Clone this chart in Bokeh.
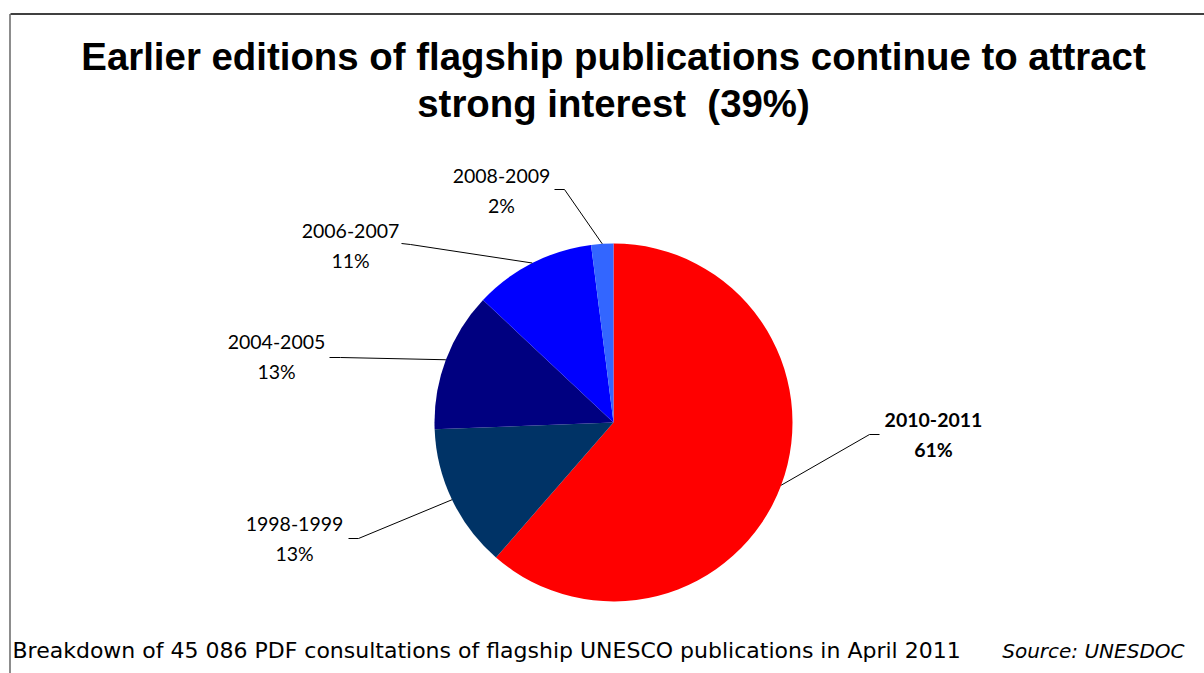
import math
from bokeh.plotting import figure
from bokeh.models import Range1d, ColumnDataSource
from bokeh.core.properties import value
from bokeh.embed import file_html
from bokeh.resources import INLINE

# ---------------- data ----------------
periods = ["2010-2011", "1998-1999", "2004-2005", "2006-2007", "2008-2009"]
shares = [61.4, 13.0, 12.6, 11.0, 2.0]
colors = ["#FF0000", "#003366", "#000080", "#0000FF", "#3366FF"]
title_lines = ["Earlier editions of flagship publications continue to attract",
               "strong interest \u00a0(39%)"]
footnote = "Breakdown of 45 086 PDF consultations of flagship UNESCO publications in April 2011"
source_note = "Source: UNESDOC"

# ---------------- layout ----------------
W, H = 1204, 673


def X(sx):
    return sx


def Y(sy):
    return H - sy


PIE_CX, PIE_CY, PIE_R = 613, 422, 179
LABEL_FONT = "Lato"
LABEL_SIZE = "19.5px"
LABEL_SHIFT = 7.5
LINE_GAP = 29
FOOT_FONT = "DejaVu Sans"
FOOT_SIZE = "22px"
SOURCE_SIZE = "20px"
FOOT_SHIFT = 7
TITLE_SHIFT = 14

# label centre x, first-line baseline y, elbow points (screen px)
label_layout = {
    "2010-2011": dict(cx=933, by=427, elbow=[(879, 434), (869, 434)], bold=True),
    "1998-1999": dict(cx=294, by=531, elbow=[(348, 538), (358, 538)], bold=False),
    "2004-2005": dict(cx=276, by=349, elbow=[(329, 357), (340, 357)], bold=False),
    "2006-2007": dict(cx=350, by=238, elbow=[(401, 243), (410, 244)], bold=False),
    "2008-2009": dict(cx=501, by=183, elbow=[(554, 189), (564, 189)], bold=False),
}

p = figure(width=W, height=H, x_range=Range1d(0, W), y_range=Range1d(0, H),
           output_backend="svg", toolbar_location=None, min_border=0,
           x_axis_type=None, y_axis_type=None)
p.outline_line_color = None
p.background_fill_color = "white"
p.border_fill_color = "white"

# frame lines
p.line(x=[X(1210), X(10)], y=[Y(13.5), Y(13.5)], line_color="#404040", line_width=2)
p.line(x=[X(9.5), X(9.5)], y=[Y(13.5), Y(680)], line_color="#404040", line_width=1.2)

# pie wedges
total = sum(shares)
cum = 0.0
starts, ends, mids = [], [], []
for s in shares:
    a0 = math.pi / 2 - 2 * math.pi * cum / total
    a1 = math.pi / 2 - 2 * math.pi * (cum + s) / total
    starts.append(a1)
    ends.append(a0)
    mids.append((a0 + a1) / 2)
    cum += s

src = ColumnDataSource(dict(start=starts, end=ends, color=colors,
                            x=[X(PIE_CX)] * len(shares), y=[Y(PIE_CY)] * len(shares)))
p.wedge(x="x", y="y", radius=PIE_R, start_angle="start", end_angle="end",
        direction="anticlock", fill_color="color", line_color=None, source=src)

# leader lines and labels
for per, s, m in zip(periods, shares, mids):
    lay = label_layout[per]
    ax = X(PIE_CX) + PIE_R * math.cos(m)
    ay = Y(PIE_CY) + PIE_R * math.sin(m)
    xs = [X(e[0]) for e in lay["elbow"]] + [ax]
    ys = [Y(e[1]) for e in lay["elbow"]] + [ay]
    p.line(x=xs, y=ys, line_color="black", line_width=1)
    style = "bold" if lay["bold"] else "normal"
    b = lay["by"] - LABEL_SHIFT
    p.text(x=[X(lay["cx"]), X(lay["cx"])], y=[Y(b), Y(b + LINE_GAP)],
           text=[per, f"{round(s)}%"], text_font=value(LABEL_FONT), text_font_size=LABEL_SIZE,
           text_font_style=style, text_align="center", text_baseline="alphabetic",
           text_color="black")

# title
p.text(x=[X(613), X(613)], y=[Y(70 - TITLE_SHIFT), Y(117 - TITLE_SHIFT)], text=title_lines,
       text_font=value("Liberation Sans"), text_font_size="38.4px", text_font_style="bold",
       text_align="center", text_baseline="alphabetic", text_color="black")

# footer
p.text(x=[X(12)], y=[Y(657 - FOOT_SHIFT)], text=[footnote], text_font=value(FOOT_FONT),
       text_font_size=FOOT_SIZE, text_align="left", text_baseline="alphabetic", text_color="black")
p.text(x=[X(1184)], y=[Y(657 - FOOT_SHIFT)], text=[source_note], text_font=value(FOOT_FONT),
       text_font_size=SOURCE_SIZE, text_font_style="italic", text_align="right",
       text_baseline="alphabetic", text_color="black")

open("out.html", "w").write(file_html(p, INLINE))
